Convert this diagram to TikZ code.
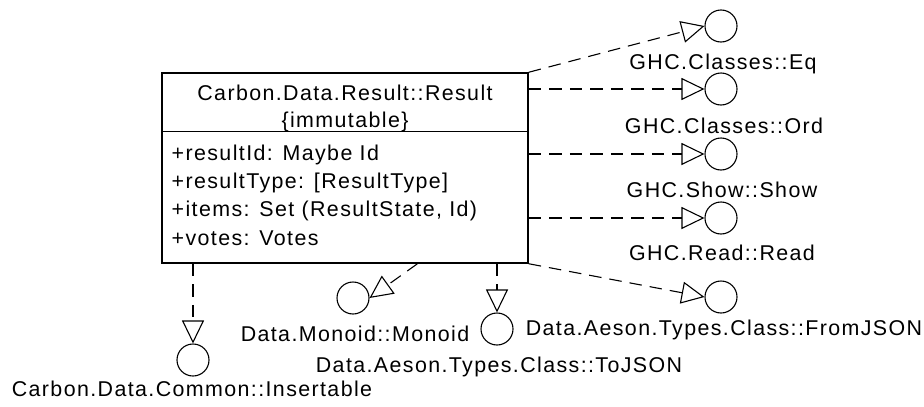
\documentclass[tikz,border=0pt]{standalone}
\usepackage{fontspec}
\setmainfont{Liberation Sans}[LetterSpace=6.5]
\usetikzlibrary{arrows.meta,calc}

\tikzset{
  iface/.style={circle, draw, line width=1.1pt, minimum size=32pt, inner sep=0pt},
  lbl/.style={anchor=base, inner sep=0pt},
  attr/.style={anchor=base west, inner sep=0pt},
  realize/.style={line width=1.1pt, dash pattern=on 12.5pt off 8pt,
    -{Triangle[open, length=23pt, width=22pt, line width=1.1pt]}},
  classbox/.style={draw, line width=1.5pt, minimum width=366pt, minimum height=190pt, inner sep=0pt}
}

\begin{document}
\begin{tikzpicture}[x=1pt, y=-1pt, font=\fontsize{21.4}{25}\selectfont]
\useasboundingbox (0,0) rectangle (924,407);

% class box with its compartments
\node[classbox] (result) at (345,168) {};
\draw[line width=1.5pt] ([yshift=-59pt]result.north west) -- ([yshift=-59pt]result.north east);
\node[lbl] (title) at (345,100.5) {Carbon.Data.Result::Result};
\node[lbl] (stereo) at (345,127) {\{immutable\}};
\node[attr] (a1) at (171.5,160) {+resultId: Maybe Id};
\node[attr] (a2) at (171.5,188.3) {+resultType: [ResultType]};
\node[attr] (a3) at (171.5,216.7) {+items: Set (ResultState, Id)};
\node[attr] (a4) at (171.5,245) {+votes: Votes};

% interfaces
\node[iface] (eq) at (721,26) {};
\node[iface] (ord) at (721,89) {};
\node[iface] (show) at (721,154) {};
\node[iface] (read) at (721,218) {};
\node[iface] (fromjson) at (721,297) {};
\node[iface] (monoid) at (353,298) {};
\node[iface] (tojson) at (497,329) {};
\node[iface] (ins) at (193,360) {};

% interface names
\node[lbl] (eqL) at (723,69) {GHC.Classes::Eq};
\node[lbl] (ordL) at (724,133) {GHC.Classes::Ord};
\node[lbl] (showL) at (722,197) {GHC.Show::Show};
\node[lbl] (readL) at (722,260) {GHC.Read::Read};
\node[lbl] (fromjsonL) at (724,335) {Data.Aeson.Types.Class::FromJSON};
\node[lbl] (monoidL) at (355,341) {Data.Monoid::Monoid};
\node[lbl] (tojsonL) at (499,372) {Data.Aeson.Types.Class::ToJSON};
\node[lbl] (insL) at (192,396) {Carbon.Data.Common::Insertable};

% realizations
\draw[realize] (result.north east) -- (eq.west);
\draw[realize] (ord.west -| result.east) -- (ord.west);
\draw[realize] (show.west -| result.east) -- (show.west);
\draw[realize] (read.west -| result.east) -- (read.west);
\draw[realize] (result.south east) -- (fromjson.west);
\draw[realize] ($(result.south west)!0.697!(result.south east)$) -- (monoid.east);
\draw[realize] (tojson.north |- result.south) -- (tojson.north);
\draw[realize] (ins.north |- result.south) -- (ins.north);
\end{tikzpicture}
\end{document}
